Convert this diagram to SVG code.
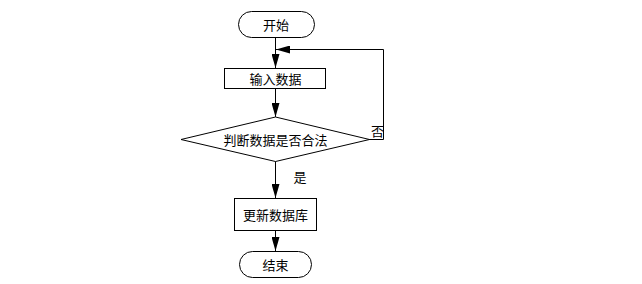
<svg xmlns="http://www.w3.org/2000/svg" width="642" height="284" viewBox="0 0 642 284">
<defs>
<style>
.n{fill:#fff;stroke:#000;stroke-width:1}
.t{font-family:"Noto Sans CJK SC","Liberation Sans",sans-serif;font-size:13px;fill:#000;text-anchor:middle;dominant-baseline:central}
.c{fill:none;stroke:#000;stroke-width:1}
</style>
<marker id="ah" viewBox="0 0 14 8" refX="14" refY="4" markerWidth="14" markerHeight="8" markerUnits="userSpaceOnUse" orient="auto">
<path d="M0,0 L14,4 L0,8 Z" fill="#000"/>
</marker>
</defs>
<rect width="642" height="284" fill="#fff"/>
<g id="connectors">
<line class="c" x1="275.5" y1="37" x2="275.5" y2="68" marker-end="url(#ah)"/>
<line class="c" x1="275.5" y1="88" x2="275.5" y2="117" marker-end="url(#ah)"/>
<polyline class="c" points="369,139.5 383.5,139.5 383.5,49.5 276,49.5" marker-end="url(#ah)"/>
<line class="c" x1="275.5" y1="161" x2="275.5" y2="198" marker-end="url(#ah)"/>
<line class="c" x1="275.5" y1="231" x2="275.5" y2="251" marker-end="url(#ah)"/>
<text class="t" x="377.5" y="130.5">否</text>
<text class="t" x="300" y="176">是</text>
</g>
<g id="start">
<rect class="n" x="238.5" y="11.5" width="76" height="26" rx="13" ry="13"/>
<text class="t" x="276" y="24">开始</text>
</g>
<g id="input">
<rect class="n" x="224.5" y="68.5" width="101" height="20"/>
<text class="t" x="275.5" y="78.5">输入数据</text>
</g>
<g id="check">
<polygon class="n" points="275.5,117 369.5,139.5 275.5,161.5 181,139.5"/>
<text class="t" x="275.5" y="139.5">判断数据是否合法</text>
</g>
<g id="update">
<rect class="n" x="234.5" y="198.5" width="82" height="32"/>
<text class="t" x="275.5" y="214.5">更新数据库</text>
</g>
<g id="end">
<rect class="n" x="239.5" y="251.5" width="72" height="26" rx="13" ry="13"/>
<text class="t" x="275.5" y="264.5">结束</text>
</g>
</svg>
